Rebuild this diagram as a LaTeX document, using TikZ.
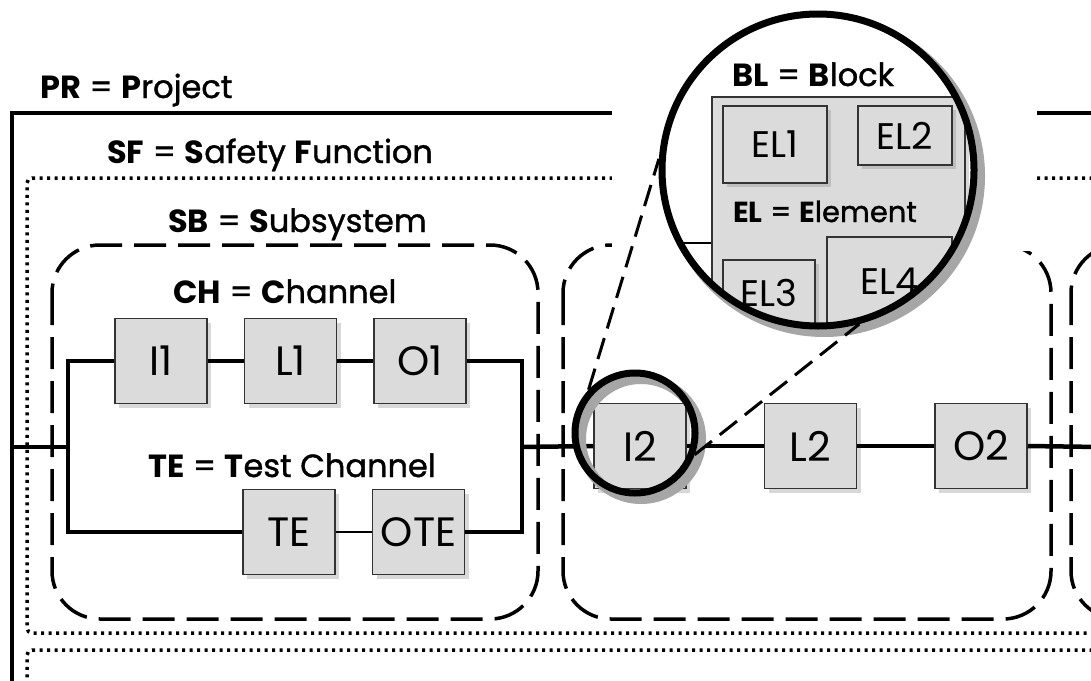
\documentclass[tikz,border=0pt]{standalone}
\usepackage{fontspec}
\setmainfont{Poppins}
\newfontfamily\labelfont{Poppins}[UprightFeatures={FakeBold=1.2}]
\usetikzlibrary{positioning, shadows}

\begin{document}
\begin{tikzpicture}[x=1pt, y=-1pt]
\tikzstyle{block} = [shape=rectangle, draw=black!80, fill=black!14, line width=1.5pt, minimum width=92pt, minimum height=85pt, inner sep=0pt, font=\fontsize{41}{41}\selectfont, drop shadow={shadow xshift=4pt, shadow yshift=-4pt, opacity=.3}, node distance=36pt];
\tikzstyle{elem} = [shape=rectangle, draw=black!80, fill=black!14, line width=1.5pt, inner sep=0pt, font=\fontsize{37}{37}\selectfont, drop shadow={shadow xshift=4pt, shadow yshift=-4pt, opacity=.3}];
\tikzstyle{title} = [anchor=base west, inner sep=0pt, font=\labelfont\fontsize{32}{32}\selectfont];
\tikzstyle{wire} = [line width=4.5pt];
\tikzstyle{thinwire} = [line width=1.5pt];
\tikzstyle{project} = [line width=3.5pt];
\tikzstyle{function} = [line width=3.5pt, dash pattern=on 3pt off 4.5pt, rounded corners=5pt];
\tikzstyle{subsystem} = [line width=3.5pt, dash pattern=on 32pt off 12pt, rounded corners=48pt];
\tikzstyle{lens} = [shape=circle, draw=black, line width=7pt, inner sep=0pt];
\tikzstyle{halo} = [draw=black!35, line width=10pt];
\tikzstyle{zoomline} = [line width=3pt, dash pattern=on 22pt off 10pt];

\clip (0,0) rectangle (1091,680);
\fill[white] (0,0) rectangle (1091,680);

% project, safety functions, subsystems
\draw[project] (1100,113) -- (12,113) -- (12,700);
\draw[function] (1100,178) -- (27,178) -- (27,633) -- (1100,633);
\draw[function] (1100,650) -- (27,650) -- (27,700);
\draw[subsystem] (52,245) rectangle (538,619);
\draw[subsystem] (563,245) rectangle (1051,619);
\draw[subsystem] (1071,245) rectangle (1600,619);
\fill[white] (612,95) rectangle (1037,251);

\node[title] (PRlabel) at (40,98) {\textbf{PR} = \textbf{P}roject};
\node[title] (SFlabel) at (107,163) {\textbf{SF} = \textbf{S}afety \textbf{F}unction};
\node[title] (SBlabel) at (168,232) {\textbf{SB} = \textbf{S}ubsystem};
\node[title] (CHlabel) at (173,303) {\textbf{CH} = \textbf{C}hannel};
\node[title] (TElabel) at (148,477) {\textbf{TE} = \textbf{T}est Channel};

% channel and test channel
\node[block] (I1) at (161,361) {I1};
\node[block, right=of I1] (L1) {L1};
\node[block, right=of L1] (O1) {O1};
\node[block] (TE) at (289,532) {TE};
\node[block, right=of TE] (OTE) {OTE};
\node[block] (I2) at (640,446) {I2};
\node[block, right=77pt of I2] (L2) {L2};
\node[block, right=77pt of L2] (O2) {O2};

\coordinate (In) at (12,447);
\coordinate (BusL) at (68,447);
\coordinate (BusR) at (522,447);
\coordinate (Out) at (1100,447);

\draw[wire] (In) -- (BusL);
\draw[wire] (I1.west) -| (BusL) |- (TE.west);
\draw[wire] (O1.east) -| (BusR) |- (OTE.east);
\draw[wire] (I1) -- (L1);
\draw[wire] (L1) -- (O1);
\draw[thinwire] (TE) -- (OTE);
\draw[wire] (BusR) -- (I2.west);
\draw[wire] (I2) -- (L2);
\draw[wire] (L2) -- (O2);
\draw[wire] (O2.east) -- (Out);

% magnifier
\draw[halo] (641,439) circle (60pt);
\node[lens, minimum size=120pt] (Lens) at (635,433) {};
\draw[halo] (824,176) circle (156pt);
\fill[white] (818,170) circle (156pt);
\node[lens, minimum size=312pt, draw=none] (Zoom) at (818,170) {};
\draw[zoomline] (Lens.137) -- (Zoom.176);
\draw[zoomline] (Lens.340) -- (Zoom.285);

\begin{scope}
\clip (818,170) circle (154pt);
\node[elem, minimum width=253pt, minimum height=303pt] (Blk) at (838.5,248.5) {};
\coordinate (BlkIn) at (680,243);
\draw[thinwire] (BlkIn) -- (BlkIn -| Blk.west);
\node[elem, minimum width=104pt, minimum height=77pt] (EL1) at (775,144.5) {EL1};
\node[elem, minimum width=94pt, minimum height=59pt] (EL2) at (905,135.5) {EL2};
\node[elem, minimum width=92pt, minimum height=66pt] (EL3) at (769,293) {EL3};
\node[elem, minimum width=125pt, minimum height=88pt] (EL4) at (889.5,281) {EL4};
\node[title] (BLlabel) at (732,86) {\textbf{BL} = \textbf{B}lock};
\node[title, font=\labelfont\fontsize{29}{29}\selectfont] (ELlabel) at (733,222) {\textbf{EL} = \textbf{E}lement};
\end{scope}
\draw[line width=7pt] (Zoom.center) circle (156pt);
\end{tikzpicture}
\end{document}
